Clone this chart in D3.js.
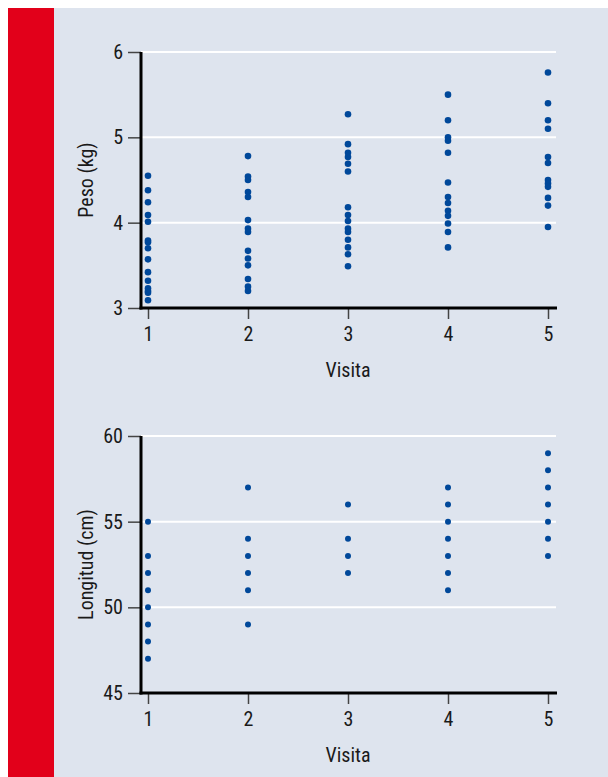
<!DOCTYPE html>
<html><head><meta charset="utf-8">
<script src="https://cdn.jsdelivr.net/npm/d3@7"></script>
<style>
body{margin:0;background:#fff;}
svg{display:block;}
text{font-family:"Liberation Sans Narrow","Arial Narrow","Roboto Condensed","Liberation Sans",sans-serif;fill:#1a1a1a;}
</style></head>
<body>
<svg id="c" width="608" height="777"></svg>
<script>
const visits = [1, 2, 3, 4, 5];
const pesoTicks = [3, 4, 5, 6];
const longitudTicks = [45, 50, 55, 60];
// Peso (kg) per visit
const peso1 = [4.55, 4.38, 4.24, 4.09, 4.01, 3.79, 3.77, 3.70, 3.57, 3.42, 3.32, 3.23, 3.20, 3.18, 3.09];
const peso2 = [4.78, 4.54, 4.50, 4.36, 4.30, 4.03, 3.93, 3.89, 3.67, 3.58, 3.50, 3.34, 3.25, 3.20];
const peso3 = [5.27, 4.92, 4.82, 4.77, 4.69, 4.60, 4.18, 4.09, 4.02, 3.93, 3.89, 3.80, 3.71, 3.63, 3.49];
const peso4 = [5.50, 5.20, 5.00, 4.96, 4.82, 4.47, 4.30, 4.23, 4.14, 4.08, 3.99, 3.89, 3.71];
const peso5 = [5.76, 5.40, 5.20, 5.10, 4.77, 4.70, 4.50, 4.46, 4.42, 4.29, 4.20, 3.95];
// Longitud (cm) per visit
const long1 = [55, 53, 52, 51, 50, 49, 48, 47];
const long2 = [57, 54, 53, 52, 51, 49];
const long3 = [56, 54, 53, 52];
const long4 = [57, 56, 55, 54, 53, 52, 51];
const long5 = [59, 58, 57, 56, 55, 54, 53];

const pesoSeries = [peso1, peso2, peso3, peso4, peso5];
const longSeries = [long1, long2, long3, long4, long5];

const svg = d3.select("#c");
svg.append("rect").attr("x", 8).attr("y", 8).attr("width", 600).attr("height", 769).attr("fill", "#dee4ee");
svg.append("rect").attr("x", 8).attr("y", 8).attr("width", 46).attr("height", 769).attr("fill", "#e2001a");

function panel(cfg) {
  const g = svg.append("g");
  const x = d3.scaleLinear().domain([1, 5]).range([148, 548]);
  const y = d3.scaleLinear().domain(cfg.domain).range([cfg.bottom, cfg.top]);
  const axisX = 141, rightX = 557;
  // gridlines
  g.selectAll(".grid").data(cfg.ticks.slice(1)).enter().append("line")
    .attr("x1", axisX).attr("x2", rightX - 1)
    .attr("y1", d => y(d)).attr("y2", d => y(d))
    .attr("stroke", "#ffffff").attr("stroke-width", 2);
  // y axis
  const ya = g.append("g").attr("transform", `translate(${axisX},0)`)
    .call(d3.axisLeft(y).tickValues(cfg.ticks).tickFormat(d3.format("d")).tickSize(13).tickSizeOuter(0).tickPadding(5));
  ya.select(".domain").remove();
  ya.selectAll(".tick line").attr("stroke", "#444").attr("stroke-width", 1.5);
  ya.selectAll(".tick text").attr("font-size", 20).style("fill", "#1a1a1a");
  // x axis
  const xa = g.append("g").attr("transform", `translate(0,${cfg.bottom})`)
    .call(d3.axisBottom(x).tickValues(visits).tickFormat(d3.format("d")).tickSize(11).tickSizeOuter(0).tickPadding(8));
  xa.select(".domain").remove();
  xa.selectAll(".tick line").attr("stroke", "#444").attr("stroke-width", 1.5);
  xa.selectAll(".tick text").attr("font-size", 20).style("fill", "#1a1a1a");
  // axis lines
  g.append("line").attr("x1", axisX).attr("x2", axisX).attr("y1", y(cfg.domain[1])).attr("y2", cfg.bottom + 1.5)
    .attr("stroke", "#000").attr("stroke-width", 3);
  g.append("line").attr("x1", axisX - 1.5).attr("x2", rightX).attr("y1", cfg.bottom).attr("y2", cfg.bottom)
    .attr("stroke", "#000").attr("stroke-width", 3);
  // points
  cfg.series.forEach((arr, i) => {
    g.selectAll(null).data(arr).enter().append("circle")
      .attr("cx", x(visits[i])).attr("cy", d => y(d)).attr("r", cfg.r)
      .attr("fill", "#00489a");
  });
  // labels
  g.append("text").attr("x", 348).attr("y", cfg.bottom + 69).attr("text-anchor", "middle")
    .attr("font-size", 20).text("Visita");
  g.append("text").attr("transform", `translate(93,${(cfg.top + cfg.bottom) / 2}) rotate(-90)`)
    .attr("text-anchor", "middle").attr("font-size", 20).text(cfg.label);
}

panel({domain: [3, 6], ticks: pesoTicks, top: 52, bottom: 308, series: pesoSeries, r: 3.3, label: "Peso (kg)"});
panel({domain: [45, 60], ticks: longitudTicks, top: 436, bottom: 693, series: longSeries, r: 3.0, label: "Longitud (cm)"});
</script>
</body></html>
